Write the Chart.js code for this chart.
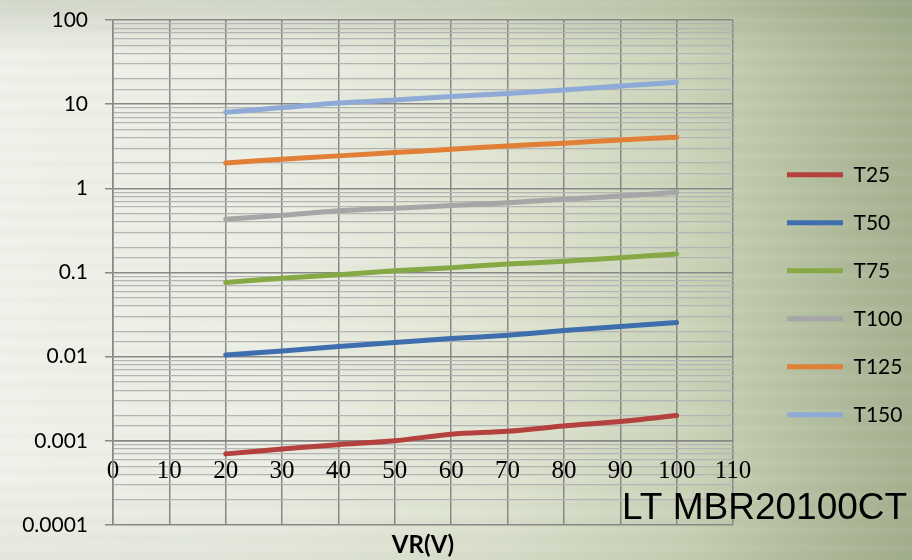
<!DOCTYPE html>
<html>
<head>
<meta charset="utf-8">
<script src="https://cdn.jsdelivr.net/npm/chart.js@4/dist/chart.umd.min.js"></script>
<style>
  html, body { margin: 0; padding: 0; }
  #wrap {
    position: relative;
    width: 912px;
    height: 560px;
    background:
      repeating-linear-gradient(to bottom, rgba(255,255,255,0) 0px, rgba(255,255,255,0.05) 3px, rgba(0,0,0,0) 7px, rgba(80,90,60,0.025) 11px, rgba(255,255,255,0) 17px),
      linear-gradient(to bottom, rgba(110,125,90,0.22) 0%, rgba(110,125,90,0) 10%, rgba(110,125,90,0) 85%, rgba(110,125,90,0.08) 100%),
      linear-gradient(to right, #eff1ea 0%, #ebeee3 30%, #dfe4d1 55%, #ccd4ba 75%, #b6c0a2 88%, #a5b191 100%);
  }
  canvas { display: block; }
</style>
</head>
<body>
<div id="wrap"><canvas id="chart" width="912" height="560"></canvas></div>
<script>
  // VR (V) on x, reverse current on a log y axis, one series per temperature
  const voltages = [20, 30, 40, 50, 60, 70, 80, 90, 100];
  const seriesNames = ['T25', 'T50', 'T75', 'T100', 'T125', 'T150'];
  const t25 = [0.0007, 0.0008, 0.0009, 0.001, 0.0012, 0.0013, 0.0015, 0.0017, 0.002];
  const t50 = [0.0105, 0.0117, 0.0132, 0.0147, 0.0164, 0.018, 0.0204, 0.0228, 0.0255];
  const t75 = [0.076, 0.0855, 0.094, 0.105, 0.114, 0.126, 0.136, 0.15, 0.166];
  const t100 = [0.43, 0.478, 0.54, 0.58, 0.624, 0.676, 0.74, 0.81, 0.9];
  const t125 = [2.0, 2.22, 2.43, 2.66, 2.91, 3.19, 3.43, 3.76, 4.05];
  const t150 = [8.0, 9.1, 10.3, 11.2, 12.3, 13.4, 14.7, 16.4, 18.2];
  const colors = ['#b5413f', '#3f6eae', '#86a845', '#a6a6a6', '#e07f35', '#8eaad6'];
  const yTickLabels = ['0.0001', '0.001', '0.01', '0.1', '1', '10', '100'];
  const xTicks = [0, 10, 20, 30, 40, 50, 60, 70, 80, 90, 100, 110];

  const allSeries = [t25, t50, t75, t100, t125, t150];
  const isDecade = v => {
    const e = Math.log10(v);
    return Math.abs(e - Math.round(e)) < 1e-9;
  };

  // part number written in the lower right corner
  const partLabel = {
    id: 'partLabel',
    afterDraw(chart) {
      const ctx = chart.ctx;
      ctx.save();
      ctx.font = '37px "Liberation Sans", Arial, sans-serif';
      ctx.fillStyle = '#000';
      ctx.textBaseline = 'alphabetic';
      ctx.fillText('LT MBR20100CT', 622, 519);
      ctx.restore();
    }
  };

  new Chart(document.getElementById('chart'), {
    type: 'line',
    data: {
      datasets: allSeries.map((vals, i) => ({
        label: seriesNames[i],
        data: voltages.map((v, j) => ({ x: v, y: vals[j] })),
        borderColor: colors[i],
        backgroundColor: colors[i],
        borderWidth: 5,
        borderCapStyle: 'round',
        borderJoinStyle: 'round',
        pointRadius: 0,
        pointStyle: 'line',
        fill: false,
        tension: 0.3
      }))
    },
    options: {
      responsive: false,
      animation: false,
      layout: { padding: { top: 20, left: 0, right: 0, bottom: 0 } },
      plugins: {
        tooltip: { enabled: false },
        legend: {
          position: 'right',
          title: { display: true, text: '', font: { size: 8 }, padding: 0 },
          labels: {
            usePointStyle: true,
            pointStyleWidth: 56,
            padding: 27,
            color: '#000',
            font: { family: 'Lato', size: 21 }
          }
        }
      },
      scales: {
        x: {
          type: 'linear',
          min: 0,
          max: 110,
          position: { y: 0.001 },
          afterBuildTicks: s => { s.ticks = xTicks.map(v => ({ value: v })); },
          ticks: {
            color: '#000',
            padding: 16,
            maxRotation: 0,
            font: { family: '"Liberation Serif", "DejaVu Serif", serif', size: 25 }
          },
          grid: { color: '#888888', lineWidth: 1.5, drawTicks: false },
          border: { color: '#888888', width: 1.5 }
        },
        x2: {
          type: 'linear',
          position: 'bottom',
          afterFit: s => { s.height = 35; },
          ticks: { display: false },
          grid: { display: false, drawTicks: false },
          border: { display: false },
          title: {
            display: true,
            text: 'VR(V)',
            color: '#000',
            font: { family: 'Lato', size: 24, weight: 'bold' },
            padding: { top: 4, bottom: 0 }
          }
        },
        y: {
          type: 'logarithmic',
          min: 0.0001,
          max: 100,
          afterFit: s => { s.width = 113; s.paddingTop = 0; s.paddingBottom = 0; },
          ticks: {
            autoSkip: false,
            color: '#000',
            padding: 17,
            font: { family: 'Lato', size: 21 },
            callback: v => (isDecade(v) ? yTickLabels[Math.round(Math.log10(v)) + 4] : '')
          },
          grid: {
            tickLength: 8,
            lineWidth: ctx => (isDecade(ctx.tick.value) ? 1.5 : 1.2),
            color: ctx => (isDecade(ctx.tick.value) ? '#888888' : '#b4b4b4'),
            tickColor: ctx => (isDecade(ctx.tick.value) ? '#888888' : 'rgba(0,0,0,0)')
          },
          border: { color: '#888888', width: 1.5 }
        },
        // empty strip between the plot and the legend
        gap: {
          type: 'linear',
          position: 'right',
          afterFit: s => { s.width = 27; s.paddingTop = 0; s.paddingBottom = 0; },
          ticks: { display: false },
          grid: { display: false, drawTicks: false },
          border: { display: false }
        }
      }
    },
    plugins: [partLabel]
  });
</script>
</body>
</html>
